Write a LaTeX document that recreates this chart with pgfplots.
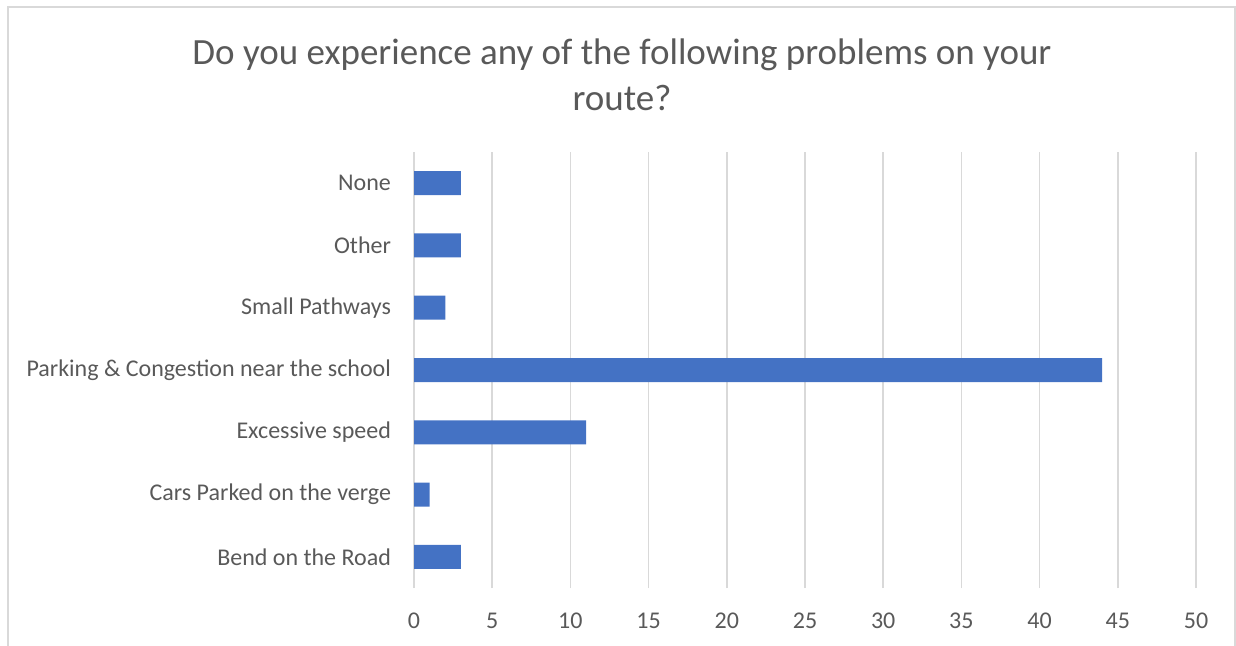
\documentclass[border=0pt]{standalone}
\usepackage{pgfplots}
\pgfplotsset{compat=1.18}
\usepackage{fontspec}
\setmainfont{Carlito}
\definecolor{barblue}{HTML}{4472C4}
\definecolor{gridgray}{HTML}{D9D9D9}
\definecolor{textgray}{HTML}{595959}
\begin{document}
\begin{tikzpicture}[x=0.5pt,y=-0.5pt]
\useasboundingbox (0,0) rectangle (1236,646);
% chart frame (bottom edge is off the picture)
\draw[gridgray, line width=0.75pt] (8,646) -- (8,7) -- (1235,7) -- (1235,646);
\node[textgray, font=\fontsize{18.5}{23}\selectfont, align=center] at (622,75)
  {Do you experience any of the following problems on your\\route?};
\begin{axis}[
    at={(207pt,-294pt)}, anchor=south west,
    width=391pt, height=218pt, scale only axis,
    xbar, bar width=12pt,
    xmin=0, xmax=50,
    ymin=-0.5, ymax=6.5,
    xtick={0,5,...,50},
    ytick={0,...,6},
    yticklabels={Bend on the Road, Cars Parked on the verge, Excessive speed,
      Parking \& Congestion near the school, Small Pathways, Other, None},
    xmajorgrids=true,
    grid style={gridgray, line width=0.75pt},
    axis line style={draw=none},
    major tick length=0pt,
    tick label style={textgray, font=\fontsize{12}{14}\selectfont},
    /pgf/number format/assume math mode=true,
    yticklabel style={xshift=-8pt},
    xticklabel style={yshift=-9pt},
    clip=false,
]
\addplot[fill=barblue, draw=none] coordinates {
  (3,0) (1,1) (11,2) (44,3) (2,4) (3,5) (3,6)
};
\end{axis}
\end{tikzpicture}
\end{document}
